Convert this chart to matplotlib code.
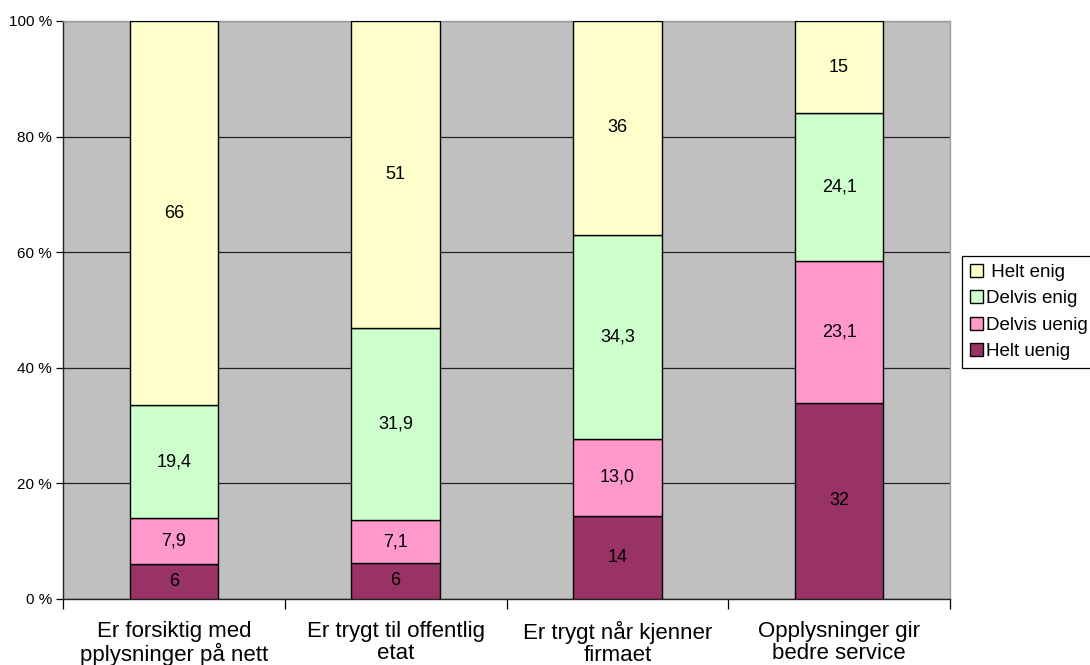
import numpy as np
import matplotlib
matplotlib.use("Agg")
import matplotlib.pyplot as plt
from matplotlib.ticker import FixedLocator, NullFormatter

plt.rcParams['font.family'] = ['Liberation Sans', 'DejaVu Sans']

categories = ['Er forsiktig med\npplysninger på nett',
              'Er trygt til offentlig\netat',
              'Er trygt når kjenner\nfirmaet',
              'Opplysninger gir\nbedre service']
series = ['Helt uenig', 'Delvis uenig', 'Delvis enig', 'Helt enig']
helt_uenig = [6, 6, 14, 32]
delvis_uenig = [7.9, 7.1, 13.0, 23.1]
delvis_enig = [19.4, 31.9, 34.3, 24.1]
helt_enig = [66, 51, 36, 15]
value_labels = [['6', '6', '14', '32'],
                ['7,9', '7,1', '13,0', '23,1'],
                ['19,4', '31,9', '34,3', '24,1'],
                ['66', '51', '36', '15']]
colors = ['#993366', '#FF99CC', '#CCFFCC', '#FFFFCC']
yticks = [0, 20, 40, 60, 80, 100]

data = np.array([helt_uenig, delvis_uenig, delvis_enig, helt_enig], dtype=float)
pct = data / data.sum(axis=0) * 100  # 100 % stacked

fig = plt.figure(figsize=(10.9, 6.65), dpi=100)
ax = fig.add_axes([63 / 1090, 1 - 599 / 665, 887 / 1090, 578 / 665])
ax.set_facecolor('#C0C0C0')

x = np.arange(len(categories))
bottom = np.zeros(len(categories))
handles = []
for i, name in enumerate(series):
    bars = ax.bar(x, pct[i], 0.4, bottom=bottom, color=colors[i],
                  edgecolor='black', linewidth=1.0, label=name, zorder=3)
    handles.append(bars)
    for j in range(len(categories)):
        ax.text(x[j], bottom[j] + pct[i][j] / 2, value_labels[i][j],
                ha='center', va='center', fontsize=13, color='black', zorder=4)
    bottom += pct[i]

ax.set_xlim(-0.5, len(categories) - 0.5)
ax.set_ylim(0, 100)
ax.set_yticks(yticks)
ax.set_yticklabels([f'{t} %' for t in yticks], fontsize=11)
ax.yaxis.grid(True, color='#222222', linewidth=0.9, zorder=1)

ax.xaxis.set_major_locator(FixedLocator(np.arange(len(categories) + 1) - 0.5))
ax.xaxis.set_major_formatter(NullFormatter())
ax.xaxis.set_minor_locator(FixedLocator(x))
ax.set_xticklabels(categories, minor=True, fontsize=16, linespacing=1.02)
ax.tick_params(axis='x', which='minor', length=0, pad=16)
ax.tick_params(axis='x', which='major', length=7, width=0.9)
ax.tick_params(axis='y', length=5, width=0.9, pad=3)

for side in ['left', 'bottom']:
    ax.spines[side].set_color('#222222')
    ax.spines[side].set_linewidth(1.0)
for side in ['top', 'right']:
    ax.spines[side].set_color('#A0A0A0')
    ax.spines[side].set_linewidth(1.0)

leg = ax.legend(handles[::-1], [' Helt enig', 'Delvis enig', 'Delvis uenig', 'Helt uenig'],
                loc='upper left', bbox_to_anchor=(962 / 1090, 1 - 256 / 665),
                bbox_transform=fig.transFigure, fontsize=13.5, frameon=True,
                fancybox=False, edgecolor='black', framealpha=1,
                handlelength=0.7, handleheight=0.7, handletextpad=0.2,
                labelspacing=0.5, borderpad=0.4, borderaxespad=0)
leg.get_frame().set_linewidth(0.9)

fig.savefig('out.png', dpi=100)
